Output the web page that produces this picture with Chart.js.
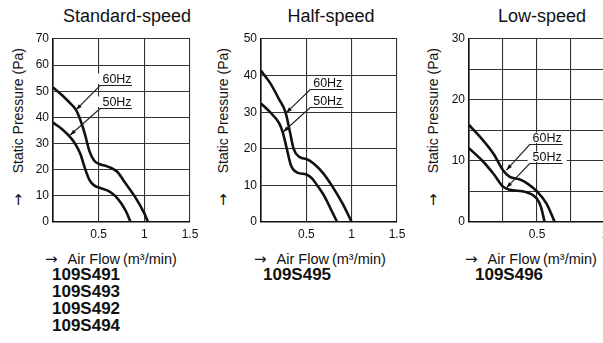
<!DOCTYPE html>
<html>
<head>
<meta charset="utf-8">
<script src="https://cdn.jsdelivr.net/npm/chart.js@4.4.1/dist/chart.umd.min.js"></script>
<style>
html, body { margin: 0; padding: 0; background: #fff; width: 603px; height: 343px; overflow: hidden; }
body { position: relative; font-family: "Liberation Sans", Arial, sans-serif; color: #111; }
canvas { position: absolute; }
.ttl { position: absolute; top: 7px; font-size: 18px; line-height: 18px; transform: translateX(-50%); white-space: nowrap; }
.yt { position: absolute; font-size: 14px; line-height: 16px; white-space: nowrap; transform: translate(-50%, -50%) rotate(-90deg); }
.xt { position: absolute; top: 250px; font-size: 14.5px; line-height: 18px; white-space: nowrap; }
.mdl { position: absolute; top: 266px; font-size: 17px; font-weight: bold; line-height: 17px; }
.arr { font-family: "DejaVu Sans", sans-serif; font-size: 15px; line-height: 14px; }
</style>
</head>
<body>

<div class="ttl" style="left:127px">Standard-speed</div>
<div class="ttl" style="left:331px">Half-speed</div>
<div class="ttl" style="left:542px">Low-speed</div>

<div class="yt" style="left:18px;top:127px"><span class="arr">→</span><span style="margin-left:20px">Static Pressure (Pa)</span></div>
<div class="yt" style="left:223px;top:127px"><span class="arr">→</span><span style="margin-left:20px">Static Pressure (Pa)</span></div>
<div class="yt" style="left:433px;top:127px"><span class="arr">→</span><span style="margin-left:20px">Static Pressure (Pa)</span></div>

<canvas id="c1" width="189" height="215" style="left:13px;top:29px"></canvas>
<canvas id="c2" width="188" height="215" style="left:221px;top:29px"></canvas>
<canvas id="c3" width="188" height="215" style="left:429px;top:29px"></canvas>

<div class="xt" style="left:45px"><span class="arr">→</span><span style="margin-left:10px">Air Flow</span><span style="margin-left:3px">(m³/min)</span></div>
<div class="xt" style="left:254px"><span class="arr">→</span><span style="margin-left:10px">Air Flow</span><span style="margin-left:3px">(m³/min)</span></div>
<div class="xt" style="left:465px"><span class="arr">→</span><span style="margin-left:10px">Air Flow</span><span style="margin-left:3px">(m³/min)</span></div>

<div class="mdl" style="left:52px">109S491<br>109S493<br>109S492<br>109S494</div>
<div class="mdl" style="left:263px">109S495</div>
<div class="mdl" style="left:475px">109S496</div>

<script>
// standard-speed curves (air flow m3/min, static pressure Pa)
const stdFlow60 = [0, 0.1, 0.2, 0.25, 0.3, 0.35, 0.4, 0.45, 0.52, 0.6, 0.7, 0.8, 0.9, 1.0, 1.04];
const stdPres60 = [51.5, 48.5, 45, 43, 39, 33.5, 27, 23.5, 22, 21.2, 19.3, 14.5, 9.5, 3.3, 0];
const stdFlow50 = [0, 0.1, 0.2, 0.25, 0.3, 0.35, 0.4, 0.45, 0.52, 0.6, 0.68, 0.75, 0.8, 0.85];
const stdPres50 = [38, 35.5, 32, 29.5, 26, 20.5, 16, 14, 13, 12, 10, 7, 4, 0];

// half-speed
const halfFlow60 = [0, 0.1, 0.2, 0.27, 0.32, 0.36, 0.42, 0.5, 0.58, 0.68, 0.78, 0.9, 1.0];
const halfPres60 = [41.3, 38, 33.5, 30, 24.5, 20, 17.8, 17.2, 16, 13.5, 10, 5, 0];
const halfFlow50 = [0, 0.1, 0.2, 0.24, 0.28, 0.33, 0.4, 0.5, 0.56, 0.62, 0.7, 0.78, 0.84];
const halfPres50 = [32.4, 30, 27, 24.5, 20.5, 15.5, 13.5, 13, 12, 10, 7, 3, 0];

// low-speed
const lowFlow60 = [0, 0.08, 0.18, 0.25, 0.3, 0.37, 0.43, 0.5, 0.57, 0.63];
const lowPres60 = [15.9, 14, 11.2, 8.5, 7.4, 7.0, 6.3, 5.0, 3.0, 0];
const lowFlow50 = [0, 0.1, 0.18, 0.25, 0.3, 0.42, 0.5, 0.53, 0.556];
const lowPres50 = [12.1, 10, 7.9, 5.8, 5.3, 4.9, 3.8, 2.4, 0];

// tick labels shown on each axis
const stdXLabels = [0.5, 1, 1.5];
const stdYLabels = [0, 10, 20, 30, 40, 50, 60, 70];
const halfXLabels = [0.5, 1, 1.5];
const halfYLabels = [0, 10, 20, 30, 40, 50];
const lowXLabels = [0.5, 1];
const lowYLabels = [0, 10, 20, 30];

const FONT = '"Liberation Sans", Arial, sans-serif';

const pts = (xs, ys) => xs.map((v, i) => ({ x: v, y: ys[i] }));

// "60Hz" / "50Hz" labels with leader arrows
const notePlugin = {
  id: 'notes',
  afterDatasetsDraw(chart, args, opts) {
    const { ctx } = chart;
    const sx = chart.scales.x, sy = chart.scales.y;
    ctx.save();
    (opts.items || []).forEach(n => {
      const x0 = sx.getPixelForValue(n.x0), x1 = sx.getPixelForValue(n.x1);
      const yy = Math.round(sy.getPixelForValue(n.y)) + 0.5;
      const tx = sx.getPixelForValue(n.tx), ty = sy.getPixelForValue(n.ty);
      ctx.fillStyle = '#fff';
      ctx.fillRect(x0 - 2, yy - 12, x1 - x0 + 6, 10.5);
      ctx.fillStyle = '#111';
      ctx.font = '12.5px ' + FONT;
      ctx.textAlign = 'center';
      ctx.textBaseline = 'alphabetic';
      ctx.fillText(n.text, (x0 + x1) / 2 + 1, yy - 3);
      ctx.strokeStyle = '#222';
      ctx.lineWidth = 1.2;
      ctx.beginPath();
      ctx.moveTo(x1, yy);
      ctx.lineTo(x0, yy);
      ctx.lineTo(tx, ty);
      ctx.stroke();
      const a = Math.atan2(ty - yy, tx - x0);
      ctx.beginPath();
      ctx.moveTo(tx, ty);
      ctx.lineTo(tx - 6 * Math.cos(a) + 2 * Math.sin(a), ty - 6 * Math.sin(a) - 2 * Math.cos(a));
      ctx.lineTo(tx - 6 * Math.cos(a) - 2 * Math.sin(a), ty - 6 * Math.sin(a) + 2 * Math.cos(a));
      ctx.closePath();
      ctx.fill();
    });
    ctx.restore();
  }
};

function panel(id, xMax, xStep, xLabels, yMax, yStep, yLabels, s60, s50, notes) {
  const line = d => ({
    data: d, showLine: true, borderColor: '#111', borderWidth: 2.6,
    pointRadius: 0, cubicInterpolationMode: 'monotone', fill: false
  });
  new Chart(document.getElementById(id), {
    type: 'scatter',
    data: { datasets: [line(s60), line(s50)] },
    options: {
      responsive: false,
      animation: false,
      layout: { padding: { top: 10, right: 12, left: 0, bottom: 0 } },
      plugins: { legend: { display: false }, tooltip: { enabled: false }, notes: { items: notes } },
      scales: {
        x: {
          type: 'linear', min: 0, max: xMax,
          grid: { color: '#333', lineWidth: 1.1, drawTicks: false },
          border: { color: '#111', width: 1.6 },
          ticks: {
            stepSize: xStep, autoSkip: false, maxRotation: 0, padding: 5, color: '#111',
            font: { size: 12, family: FONT },
            callback: v => xLabels.includes(v) ? String(v) : ''
          },
          afterFit: s => { s.height = 22; s.paddingLeft = 0; s.paddingRight = 0; }
        },
        y: {
          type: 'linear', min: 0, max: yMax,
          grid: { color: '#333', lineWidth: 1.1, drawTicks: false },
          border: { color: '#111', width: 1.6 },
          ticks: {
            stepSize: yStep, autoSkip: false, padding: 4, color: '#111',
            font: { size: 12, family: FONT },
            callback: v => yLabels.includes(v) ? String(v) : ''
          },
          afterFit: s => { s.width = 40; s.paddingTop = 0; s.paddingBottom = 0; }
        }
      }
    },
    plugins: [notePlugin]
  });
}

panel('c1', 1.5, 0.5, stdXLabels, 70, 10, stdYLabels,
  pts(stdFlow60, stdPres60), pts(stdFlow50, stdPres50),
  [{ text: '60Hz', x0: 0.515, x1: 0.865, y: 52.4, tx: 0.252, ty: 42.9 },
   { text: '50Hz', x0: 0.515, x1: 0.865, y: 43.5, tx: 0.186, ty: 33.2 }]);

panel('c2', 1.5, 0.5, halfXLabels, 50, 10, halfYLabels,
  pts(halfFlow60, halfPres60), pts(halfFlow50, halfPres50),
  [{ text: '60Hz', x0: 0.543, x1: 0.908, y: 36.4, tx: 0.277, ty: 29.8 },
   { text: '50Hz', x0: 0.543, x1: 0.908, y: 31.5, tx: 0.244, ty: 24.6 }]);

panel('c3', 1, 0.25, lowXLabels, 30, 5, lowYLabels,
  pts(lowFlow60, lowPres60), pts(lowFlow50, lowPres50),
  [{ text: '60Hz', x0: 0.446, x1: 0.689, y: 12.76, tx: 0.275, ty: 8.5 },
   { text: '50Hz', x0: 0.446, x1: 0.689, y: 9.75, tx: 0.275, ty: 5.6 }]);
</script>
</body>
</html>
